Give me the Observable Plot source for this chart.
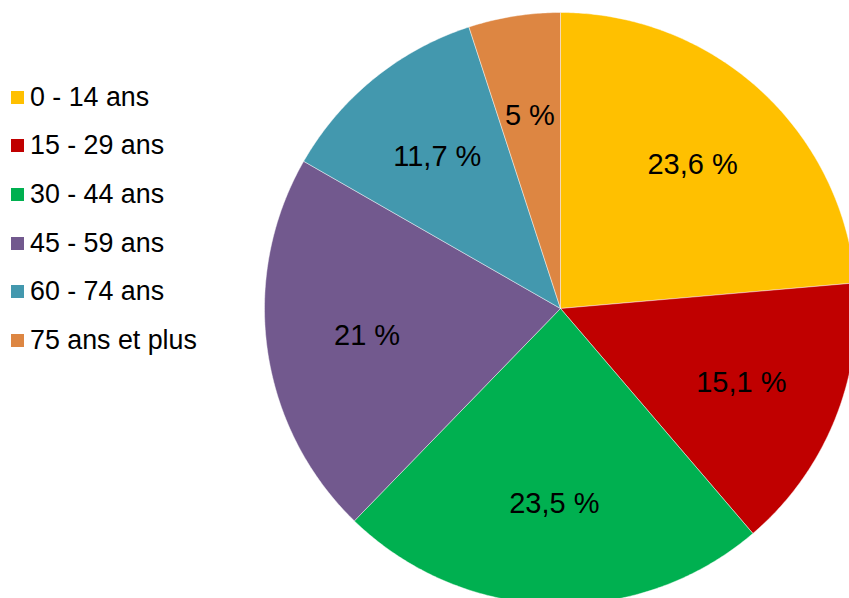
<!DOCTYPE html>
<html>
<head>
<meta charset="utf-8">
<script src="https://cdn.jsdelivr.net/npm/d3@7"></script>
<script src="https://cdn.jsdelivr.net/npm/@observablehq/plot@0.6"></script>
<style>
  html, body { margin: 0; padding: 0; background: #fff; }
  #wrap { position: relative; width: 849px; height: 598px; overflow: hidden; font-family: "Liberation Sans", Arial, sans-serif; }
  #legend { position: absolute; left: 11px; top: 73px; }
  .item { display: flex; align-items: center; height: 48.6px; font-size: 26.8px; color: #000; white-space: nowrap; }
  .sw { width: 13px; height: 13px; margin-right: 6px; flex: none; }
  #chart svg { display: block; }
</style>
</head>
<body>
<div id="wrap">
  <div id="chart"></div>
  <div id="legend"></div>
</div>
<script>
const categories = ["0 - 14 ans", "15 - 29 ans", "30 - 44 ans", "45 - 59 ans", "60 - 74 ans", "75 ans et plus"];
const values = [23.6, 15.1, 23.5, 21, 11.7, 5];
const colors = ["#FFC000", "#C00000", "#00B050", "#72598E", "#4398AE", "#DD8642"];

const total = d3.sum(values);
const W = 849, H = 598, cx = 560, cy = 308, R = 296;

// slices with start/end angles (clockwise from 12 o'clock)
let acc = 0;
const slices = categories.map((c, i) => {
  const a0 = acc / total * 2 * Math.PI;
  acc += values[i];
  const a1 = acc / total * 2 * Math.PI;
  return { category: c, value: values[i], a0, a1, mid: (a0 + a1) / 2 };
});

// polygon points for each slice
const pts = [];
for (const s of slices) {
  pts.push({ category: s.category, x: 0, y: 0 });
  const n = Math.max(2, Math.ceil((s.a1 - s.a0) / (Math.PI / 360)));
  for (let k = 0; k <= n; k++) {
    const a = s.a0 + (s.a1 - s.a0) * k / n;
    pts.push({ category: s.category, x: Math.sin(a), y: Math.cos(a) });
  }
  pts.push({ category: s.category, x: 0, y: 0 });
}

const fmt = v => String(v).replace(".", ",") + " %";
const lr = 0.66;

const chart = Plot.plot({
  width: W, height: H,
  marginTop: 0, marginRight: 0, marginBottom: 0, marginLeft: 0,
  x: { domain: [-cx / R, (W - cx) / R], axis: null },
  y: { domain: [-(H - cy) / R, cy / R], axis: null },
  color: { domain: categories, range: colors },
  style: { fontFamily: "'Liberation Sans', Arial, sans-serif", background: "#fff" },
  marks: [
    Plot.line(pts, { x: "x", y: "y", z: "category", fill: "category", stroke: "#ffffff", strokeWidth: 0.8, strokeOpacity: 0.55, curve: "linear" }),
    Plot.text(slices, {
      x: d => lr * Math.sin(d.mid),
      y: d => lr * Math.cos(d.mid),
      text: d => fmt(d.value),
      fontSize: 29, fill: "#000"
    })
  ]
});
document.getElementById("chart").appendChild(chart);

const legend = document.getElementById("legend");
categories.forEach((c, i) => {
  const it = document.createElement("div");
  it.className = "item";
  const sw = document.createElement("span");
  sw.className = "sw";
  sw.style.background = colors[i];
  const tx = document.createElement("span");
  tx.textContent = c;
  it.appendChild(sw); it.appendChild(tx);
  legend.appendChild(it);
});
</script>
</body>
</html>
